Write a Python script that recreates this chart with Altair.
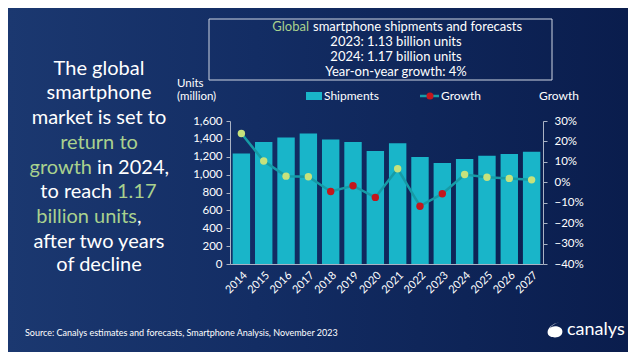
import altair as alt
import pandas as pd

years = [str(y) for y in range(2014, 2028)]
shipments = [1235, 1365, 1414, 1459, 1392, 1365, 1264, 1350, 1197, 1130, 1175, 1212, 1231, 1257]
growth_pct = [23.9, 10.4, 3.0, 2.7, -4.5, -1.7, -7.4, 6.6, -11.7, -5.6, 3.8, 2.5, 1.9, 1.2]
left_ticks = [0, 200, 400, 600, 800, 1000, 1200, 1400, 1600]
right_ticks = [-0.4, -0.3, -0.2, -0.1, 0.0, 0.1, 0.2, 0.3]

BAR = "#19b5c9"
LINE = "#169ba6"
POS = "#c6e27c"
NEG = "#c4161c"
GREEN_TXT = "#a9d18e"
FONT = "Lato"

df = pd.DataFrame({"year": years, "shipments": shipments,
                   "growth": [g / 100 for g in growth_pct]})
one = pd.DataFrame({"d": [0]})

W, H = 313, 143
PL, PT, PR, PB = 222, 113, 85, 88

x_enc = alt.X("year:O", title=None,
              scale=alt.Scale(paddingInner=0.22, paddingOuter=0.12),
              axis=alt.Axis(labelAngle=-45, ticks=False, labelPadding=5, zindex=1,
                            domainColor="#aab3c4", labelColor="white",
                            labelFontSize=11, labelFont=FONT))

bg = alt.Chart(one).mark_rect(
    color=alt.LinearGradient(
        gradient="linear",
        stops=[alt.GradientStop(offset=0, color="#1b3870"),
               alt.GradientStop(offset=0.4, color="#132d64"),
               alt.GradientStop(offset=1, color="#0a1d4d")],
        x1=0, x2=1, y1=0, y2=0)
).encode(x=alt.value(-PL), x2=alt.value(W + PR), y=alt.value(-PT), y2=alt.value(H + PB))

bars = alt.Chart(df).mark_bar(color=BAR).encode(
    x=x_enc,
    y=alt.Y("shipments:Q", title=None,
            scale=alt.Scale(domain=[0, 1600]),
            axis=alt.Axis(values=left_ticks, format=",d", orient="left", zindex=1,
                          grid=False, tickSize=4, labelPadding=4,
                          domainColor="#aab3c4", tickColor="#aab3c4",
                          labelColor="white", labelFontSize=11.5, labelFont=FONT)),
)

gy = alt.Y("growth:Q", title=None,
           scale=alt.Scale(domain=[-0.4, 0.3]),
           axis=alt.Axis(values=right_ticks, format=".0%", orient="right", zindex=1,
                         grid=False, tickSize=4, labelPadding=7,
                         domainColor="#aab3c4", tickColor="#aab3c4",
                         labelColor="white", labelFontSize=11.5, labelFont=FONT))

line = alt.Chart(df).mark_line(color=LINE, strokeWidth=2.5).encode(x="year:O", y=gy)
pts = alt.Chart(df).transform_calculate(
    sign="datum.growth >= 0 ? 'pos' : 'neg'"
).mark_point(filled=True, opacity=1, size=55).encode(
    x="year:O",
    y=alt.Y("growth:Q", scale=alt.Scale(domain=[-0.4, 0.3]), axis=None),
    color=alt.Color("sign:N", scale=alt.Scale(domain=["pos", "neg"], range=[POS, NEG]), legend=None),
)


def label(text, px, py, size, color="white", align="center"):
    return alt.Chart(one).mark_text(text=text, align=align, baseline="middle",
                                    fontSize=size, color=color, font=FONT).encode(
        x=alt.value(px), y=alt.value(py))


texts = [
    # left statement block
    label("The global", -131, -52, 20),
    label("smartphone", -131, -28, 20),
    label("market is set to", -131, -3, 20),
    label("return to", -131, 22, 20, GREEN_TXT),
    label("growth", -138, 47, 20, GREEN_TXT, "right"),
    label("in 2024,", -133, 47, 20, "white", "left"),
    label("to reach", -118, 71, 20, "white", "right"),
    label("1.17", -113, 71, 20, GREEN_TXT, "left"),
    label("billion units", -93, 96, 20, GREEN_TXT, "right"),
    label(",", -93, 96, 20, "white", "left"),
    label("after two years", -131, 121, 20),
    label("of decline", -131, 144, 20),
    # title box
    label("Global", 79, -94, 13, GREEN_TXT, "right"),
    label("smartphone shipments and forecasts", 83, -94, 13, "white", "left"),
    label("2023: 1.13 billion units", 166, -79, 13),
    label("2024: 1.17 billion units", 166, -64, 13),
    label("Year-on-year growth: 4%", 166, -49, 13),
    # axis titles and legend
    label("Units", -53, -37, 11.5, "white", "left"),
    label("(million)", -53, -24, 11.5, "white", "left"),
    label("Growth", 329, -25, 12),
    label("Shipments", 94, -25, 12, "white", "left"),
    label("Growth", 211, -25, 12, "white", "left"),
    # footer
    label("Source: Canalys estimates and forecasts, Smartphone Analysis, November 2023",
          -205, 212, 9, "white", "left"),
    label("canalys", 337, 209, 18, "white", "left"),
]

box = alt.Chart(one).mark_rect(fillOpacity=0, stroke="#cfd6e3", strokeWidth=1).encode(
    x=alt.value(-21), x2=alt.value(322), y=alt.value(-102), y2=alt.value(-41))
leg_rect = alt.Chart(one).mark_rect(color=BAR).encode(
    x=alt.value(76), x2=alt.value(92), y=alt.value(-29), y2=alt.value(-21))
leg_line = alt.Chart(one).mark_rule(color=LINE, strokeWidth=2.5).encode(
    x=alt.value(190), x2=alt.value(209), y=alt.value(-25))
leg_dot = alt.Chart(one).mark_point(filled=True, opacity=1, size=50, color=NEG).encode(
    x=alt.value(200), y=alt.value(-25))
logo = alt.Chart(one).mark_point(
    filled=True, opacity=1, size=220, color="white",
    shape="M0.6,-1 C-0.4,-0.9 -1,-0.2 -1,0.3 C-1,0.8 -0.5,1 0,1 C0.6,1 1,0.7 1,0.2 C1,-0.3 0.5,-0.5 0,-0.5 C-0.3,-0.5 -0.5,-0.4 -0.7,-0.2 C-0.5,-0.6 0,-0.9 0.6,-1 Z"
).encode(x=alt.value(325), y=alt.value(209))

chart = alt.layer(bg, bars, line, pts, box, leg_rect, leg_line, leg_dot, logo, *texts).resolve_scale(
    y="independent"
).properties(
    width=W, height=H,
    autosize=alt.AutoSizeParams(type="none"),
    padding={"left": PL, "top": PT, "right": PR, "bottom": PB},
).configure(background="#0f2a5e").configure_view(strokeWidth=0)

chart.save("out.html", embed_options={"renderer": "svg", "actions": False})
